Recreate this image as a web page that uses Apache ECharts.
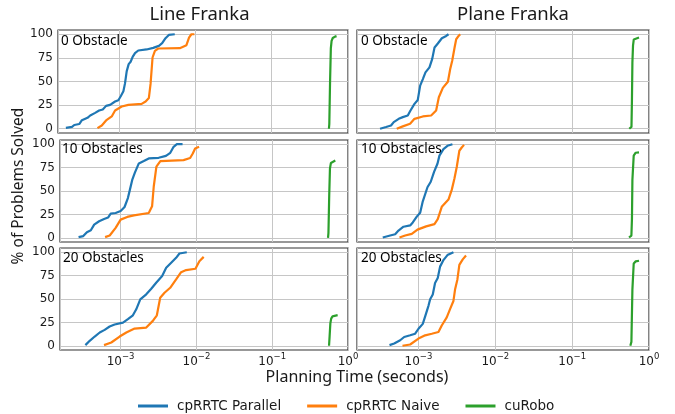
<!DOCTYPE html>
<html><head><meta charset="utf-8">
<script src="https://cdn.jsdelivr.net/npm/echarts@6/dist/echarts.min.js"></script>
<style>html,body{margin:0;padding:0;background:#fff}#c{width:675px;height:414px}</style>
</head><body><div id="c"></div>
<script>
const columnTitles = ['Line Franka', 'Plane Franka'];
const panelLabels = ['0 Obstacle', '10 Obstacles', '20 Obstacles'];
const seriesNames = ['cpRRTC Parallel', 'cpRRTC Naive', 'cuRobo'];
const yTicks = [0, 25, 50, 75, 100];
const xLimits = [1.585e-4, 1];
const yLimits = [-4.5, 104.5];

// [planning time (s), % of problems solved]
const line0Parallel = [[2.01e-4,1],[2.42e-4,2],[2.59e-4,4],[3.01e-4,5],[3.26e-4,9],[3.86e-4,11.6],[4.19e-4,14],[4.86e-4,16.8],[5.48e-4,19.3],[6.12e-4,20.4],[6.76e-4,24.2],[7.64e-4,25.3],[8.87e-4,28.8],[9.79e-4,30.2],[1.052e-3,34.4],[1.14e-3,39.6],[1.197e-3,48],[1.259e-3,60.7],[1.337e-3,68.4],[1.419e-3,70.9],[1.507e-3,76.1],[1.618e-3,80],[1.786e-3,82.8],[2.296e-3,83.9],[2.805e-3,85.6],[3.327e-3,87.7],[3.673e-3,90.5],[4.064e-3,95.8],[4.487e-3,99.3],[5.37e-3,100]];
const line0Naive = [[5.21e-4,0.7],[5.94e-4,3.5],[6.76e-4,8.8],[8.02e-4,13],[8.87e-4,19.3],[1.084e-3,23.5],[1.324e-3,25.3],[1.977e-3,26.3],[2.228e-3,28.8],[2.46e-3,32.6],[2.588e-3,47.4],[2.748e-3,75.4],[2.951e-3,82.5],[3.258e-3,84.9],[6.252e-3,85.3],[7.638e-3,88.4],[8.26e-3,96.5],[8.87e-3,100],[9.7e-3,100]];
const line0Curobo = [[0.5623,0],[0.5689,5],[0.5821,50],[0.5957,85],[0.6095,93],[0.631,96],[0.6761,97.5],[0.7079,98]];

const line10Parallel = [[2.786e-4,0.7],[3.214e-4,1.8],[3.589e-4,6],[4.046e-4,8.1],[4.477e-4,14.1],[5.2e-4,17.7],[6.053e-4,20.1],[6.823e-4,21.6],[7.396e-4,25.8],[8.59e-4,26.5],[1e-3,28.6],[1.127e-3,32.9],[1.247e-3,42.4],[1.324e-3,51.2],[1.422e-3,61.8],[1.542e-3,69.6],[1.738e-3,79.5],[2.023e-3,82],[2.35e-3,84.8],[3.177e-3,85.5],[3.963e-3,87.6],[4.519e-3,90.8],[5e-3,97.2],[5.521e-3,100],[6.561e-3,100]];
const line10Naive = [[6.237e-4,0.7],[7.178e-4,2.5],[8.59e-4,10.6],[1e-3,19.4],[1.222e-3,22.3],[1.496e-3,24],[2.35e-3,26.5],[2.6e-3,33.6],[2.735e-3,54.8],[2.965e-3,76],[3.342e-3,82],[6.761e-3,83],[8.26e-3,85.2],[8.954e-3,90.1],[9.616e-3,95.4],[1.084e-2,97.2]];
const line10Curobo = [[0.545,0],[0.552,5],[0.565,45],[0.578,74],[0.595,80],[0.62,81.5],[0.68,82.5]];

const line20Parallel = [[3.428e-4,0.7],[3.908e-4,5.3],[4.55e-4,9.9],[5.297e-4,14.2],[6.152e-4,17],[7.161e-4,20.6],[8.337e-4,22.7],[1.074e-3,24.8],[1.247e-3,28.4],[1.452e-3,32.6],[1.607e-3,39],[1.816e-3,49.6],[2.178e-3,55],[2.535e-3,61],[2.944e-3,67.4],[3.532e-3,74.5],[3.99e-3,83.3],[4.645e-3,88.7],[5.395e-3,94],[5.97e-3,98.6],[7.464e-3,100]];
const line20Naive = [[6.039e-4,0.7],[7.534e-4,3.5],[9.705e-4,9.9],[1.189e-3,14.2],[1.528e-3,18.4],[2.178e-3,19.5],[2.661e-3,26.6],[3.006e-3,32.6],[3.327e-3,51.4],[3.793e-3,56.7],[4.508e-3,62],[5.395e-3,70.9],[6.281e-3,78.7],[7.311e-3,80.9],[9.705e-3,82.3],[1.094e-2,90.4],[1.247e-2,95]];
const line20Curobo = [[0.562,0],[0.572,10],[0.585,24],[0.6,29],[0.625,31.5],[0.66,32.3],[0.73,32.7]];

const plane0Parallel = [[3.162e-4,0],[3.784e-4,1.8],[4.395e-4,3.5],[4.764e-4,7],[5.534e-4,10.5],[6.252e-4,12.3],[7.261e-4,14],[7.87e-4,19.3],[8.872e-4,26.3],[9.795e-4,30.5],[1.052e-3,45.6],[1.14e-3,52.6],[1.233e-3,59.6],[1.39e-3,64.9],[1.507e-3,73.7],[1.618e-3,86],[1.786e-3,90.2],[2.014e-3,95.8],[2.296e-3,98.2],[2.46e-3,100]];
const plane0Naive = [[5.212e-4,0],[6.252e-4,2.5],[7.78e-4,5.3],[8.872e-4,10.5],[1.14e-3,13],[1.462e-3,14],[1.698e-3,19.3],[1.841e-3,33.3],[2.075e-3,43.2],[2.415e-3,49.8],[2.588e-3,63.2],[2.748e-3,71.9],[2.951e-3,86],[3.097e-3,94.7],[3.327e-3,98.2],[3.491e-3,100]];
const plane0Curobo = [[0.5534,0],[0.5916,2],[0.5998,30],[0.6081,70],[0.6194,88],[0.6339,94.5],[0.6607,96],[0.7413,96.5]];

const plane10Parallel = [[3.428e-4,0.3],[4.285e-4,2.4],[4.977e-4,3.8],[5.495e-4,7.7],[6.383e-4,11.8],[7.798e-4,13.2],[8.433e-4,16.4],[9.506e-4,22.6],[1.052e-3,26.8],[1.138e-3,39],[1.309e-3,54],[1.445e-3,59.9],[1.596e-3,70.4],[1.766e-3,79.1],[1.875e-3,87.8],[2.113e-3,94.8],[2.382e-3,98.3],[2.767e-3,100]];
const plane10Naive = [[5.662e-4,0.3],[6.714e-4,2.4],[8.185e-4,4.2],[9.705e-4,8.7],[1.259e-3,12.2],[1.614e-3,14.6],[1.782e-3,19.9],[2.009e-3,33.1],[2.455e-3,40.8],[2.71e-3,51.2],[2.938e-3,63.4],[3.148e-3,75.6],[3.404e-3,93],[3.656e-3,96.5],[3.917e-3,99.3]];
const plane10Curobo = [[0.5495,0.3],[0.5902,2.4],[0.6,20],[0.6081,61.7],[0.6324,87.8],[0.6714,90.9],[0.7413,91.3]];

const plane20Parallel = [[4.198e-4,0.7],[4.831e-4,2.4],[5.781e-4,5.9],[6.516e-4,9.4],[7.798e-4,11.2],[9.057e-4,12.9],[1e-3,18.2],[1.138e-3,23.4],[1.222e-3,31.5],[1.349e-3,42.7],[1.419e-3,49.7],[1.535e-3,54.9],[1.644e-3,67.1],[1.782e-3,72.4],[1.91e-3,84.6],[2.113e-3,91.6],[2.382e-3,96.9],[2.851e-3,100]];
const plane20Naive = [[6.194e-4,0],[7.798e-4,1.4],[1e-3,7.7],[1.222e-3,11.2],[1.489e-3,12.9],[1.82e-3,14.7],[2.009e-3,21.7],[2.333e-3,30.4],[2.576e-3,39.2],[2.851e-3,47.9],[2.992e-3,60.1],[3.206e-3,70.6],[3.404e-3,86.4],[3.767e-3,92.3],[4.159e-3,96.5]];
const plane20Curobo = [[0.5715,0],[0.5902,4.2],[0.6081,60],[0.6324,88],[0.6714,90.2],[0.7413,90.9]];

const colors = ['#1f77b4', '#ff7f0e', '#2ca02c'];
const panels = [
  {row:0, col:0, data:[line0Parallel, line0Naive, line0Curobo]},
  {row:1, col:0, data:[line10Parallel, line10Naive, line10Curobo]},
  {row:2, col:0, data:[line20Parallel, line20Naive, line20Curobo]},
  {row:0, col:1, data:[plane0Parallel, plane0Naive, plane0Curobo]},
  {row:1, col:1, data:[plane10Parallel, plane10Naive, plane10Curobo]},
  {row:2, col:1, data:[plane20Parallel, plane20Naive, plane20Curobo]}
];

// layout
const rowTop = [30, 140, 248];
const rowH = [103, 102, 102];
const colLeft = [[58, 60, 60], [357, 357, 357]];
const colRight = [348, 649];
const labelPos = [[[61, 41.5], [62, 149.5], [63, 258]], [[361, 41], [361, 149], [361, 258.5]]];

const gridColor = '#c6c6c6';
const textColor = '#1a1a1a';
const sans = '"Noto Sans", "DejaVu Sans", sans-serif';
const dejavu = '"DejaVu Sans", sans-serif';

function supLabel(v) {
  const e = Math.round(Math.log10(v));
  const s = e === 0 ? '0' : '\u2212' + Math.abs(e);
  return '{b|10}{s|' + s + '}';
}

const grid = [], xAxis = [], yAxis = [], series = [];
panels.forEach((p, i) => {
  const left = colLeft[p.col][p.row];
  grid.push({
    left: left, top: rowTop[p.row], width: colRight[p.col] - left, height: rowH[p.row],
    show: true, borderColor: '#333', borderWidth: 1.2, backgroundColor: 'transparent',
    containLabel: false, outerBoundsMode: 'none'
  });
  xAxis.push({
    type: 'log', logBase: 10, gridIndex: i, min: xLimits[0], max: xLimits[1],
    axisLine: {show: false}, axisTick: {show: false},
    splitLine: {show: true, lineStyle: {color: gridColor, width: 1}},
    axisLabel: {
      show: p.row === 2, showMinLabel: false, margin: 2, formatter: supLabel,
      rich: {
        b: {fontSize: 12, fontFamily: dejavu, color: textColor, verticalAlign: 'bottom', lineHeight: 16},
        s: {fontSize: 8.5, fontFamily: dejavu, color: textColor, verticalAlign: 'top', lineHeight: 16}
      }
    }
  });
  yAxis.push({
    type: 'value', gridIndex: i, min: yLimits[0], max: yLimits[1],
    axisLine: {show: false},
    axisTick: {show: false, customValues: yTicks},
    splitLine: {show: true, lineStyle: {color: gridColor, width: 1}},
    axisLabel: {show: p.col === 0, customValues: yTicks, margin: 5, fontSize: 12, fontFamily: dejavu, color: textColor}
  });
  p.data.forEach((d, k) => {
    series.push({
      type: 'line', name: seriesNames[k], xAxisIndex: i, yAxisIndex: i, data: d,
      showSymbol: false, symbol: 'none', smooth: false,
      lineStyle: {color: colors[k], width: 2.2}, itemStyle: {color: colors[k]},
      emphasis: {disabled: true}, silent: true, z: 3
    });
  });
});

const graphic = [];
graphic.push({type: 'text', x: 199.5, y: 15, style: {text: columnTitles[0], font: '18.5px ' + sans, fill: textColor, align: 'center', verticalAlign: 'middle'}});
graphic.push({type: 'text', x: 513, y: 15, style: {text: columnTitles[1], font: '18.5px ' + sans, fill: textColor, align: 'center', verticalAlign: 'middle'}});
graphic.push({type: 'text', x: 19, y: 186, rotation: Math.PI / 2, style: {text: '% of Problems Solved', font: '15.5px ' + sans, fill: textColor, align: 'center', verticalAlign: 'middle'}});
graphic.push({type: 'text', x: 357, y: 377, style: {text: 'Planning Time (seconds)', font: '16px ' + sans, fill: textColor, align: 'center', verticalAlign: 'middle'}});
for (let c = 0; c < 2; c++) {
  for (let r = 0; r < 3; r++) {
    const pos = labelPos[c][r];
    graphic.push({type: 'text', x: pos[0], y: pos[1], z: 10, style: {text: panelLabels[r], font: '13.5px ' + sans, fill: '#000', align: 'left', verticalAlign: 'middle'}});
  }
}

const chart = echarts.init(document.getElementById('c'), null, {renderer: 'canvas'});
chart.setOption({
  animation: false,
  backgroundColor: '#fff',
  color: colors,
  grid, xAxis, yAxis, series, graphic,
  legend: {
    data: seriesNames.map(n => ({name: n, icon: 'rect'})),
    left: 133, top: 394, itemWidth: 30, itemHeight: 3, itemGap: 26,
    textStyle: {fontSize: 13.5, fontFamily: dejavu, color: textColor, padding: [0, 0, 0, 4]}
  }
});
</script></body></html>
